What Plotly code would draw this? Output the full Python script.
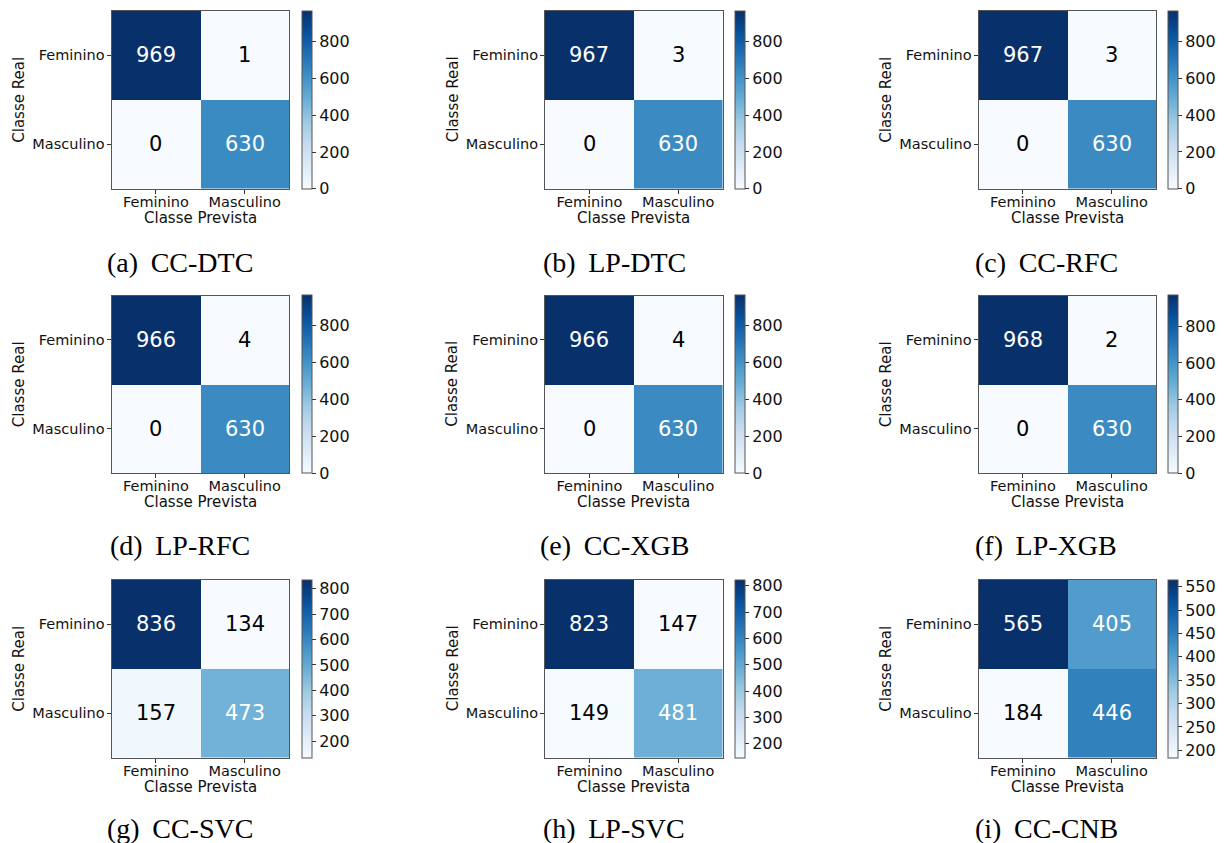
import plotly.graph_objects as go

W, H = 1227, 843

classes = ["Feminino", "Masculino"]
captions = ["(a)\u00a0\u2009CC-DTC", "(b)\u00a0\u2009LP-DTC", "(c)\u00a0\u2009CC-RFC",
            "(d)\u00a0\u2009LP-RFC", "(e)\u00a0\u2009CC-XGB", "(f)\u00a0\u2009LP-XGB",
            "(g)\u00a0\u2009CC-SVC", "(h)\u00a0\u2009LP-SVC", "(i)\u00a0\u2009CC-CNB"]

cm_a = [[969, 1], [0, 630]]
cm_b = [[967, 3], [0, 630]]
cm_c = [[967, 3], [0, 630]]
cm_d = [[966, 4], [0, 630]]
cm_e = [[966, 4], [0, 630]]
cm_f = [[968, 2], [0, 630]]
cm_g = [[836, 134], [157, 473]]
cm_h = [[823, 147], [149, 481]]
cm_i = [[565, 405], [184, 446]]
matrices = [cm_a, cm_b, cm_c, cm_d, cm_e, cm_f, cm_g, cm_h, cm_i]

cbar_dtick = [200, 200, 200, 200, 200, 200, 100, 100, 50]

# layout geometry (pixels)
col_left = [111.5, 545.0, 978.5]
col_cb = [302.0, 735.0, 1167.5]
row_top = [11.0, 295.5, 580.0]
size = 177.5
cap_x = [180, 614, 1046]
cap_y = [262, 545, 828]

SANS = "DejaVu Sans"
SERIF = "Liberation Serif"
LINE = "#555555"

fig = go.Figure()
annotations = []
layout = {}

for k, cm in enumerate(matrices):
    r, c = divmod(k, 3)
    n = k + 1
    xs = "" if n == 1 else str(n)
    x0 = col_left[c] / W
    x1 = (col_left[c] + size) / W
    y1 = 1 - row_top[r] / H
    y0 = 1 - (row_top[r] + size) / H
    flat = [v for row in cm for v in row]
    vmin, vmax = min(flat), max(flat)
    fig.add_trace(go.Heatmap(
        z=cm, x=[0, 1], y=[0, 1],
        colorscale="Blues", zmin=vmin, zmax=vmax,
        xaxis="x" + xs, yaxis="y" + xs, hoverinfo="skip",
        colorbar=dict(
            x=col_cb[c] / W, xanchor="left", xpad=0,
            y=(y0 + y1) / 2, yanchor="middle", ypad=0,
            len=size / H, lenmode="fraction",
            thickness=10, thicknessmode="pixels",
            outlinewidth=1, outlinecolor=LINE,
            ticks="outside", ticklen=4, tickcolor="#333",
            tick0=0, dtick=cbar_dtick[k],
            tickfont=dict(family=SANS, size=16, color="#111"),
        ),
    ))
    layout["xaxis" + xs] = dict(
        domain=[x0, x1], anchor="y" + xs, range=[-0.5, 1.5],
        tickvals=[0, 1], ticktext=classes, ticks="outside", ticklen=4,
        tickcolor="#333", showline=True, mirror=True, linecolor=LINE,
        linewidth=1, showgrid=False, zeroline=False, ticklabelstandoff=-4,
        tickfont=dict(family=SANS, size=14.5, color="#111"), fixedrange=True,
    )
    layout["yaxis" + xs] = dict(
        domain=[y0, y1], anchor="x" + xs, range=[1.5, -0.5],
        tickvals=[0, 1], ticktext=classes, ticks="outside", ticklen=4,
        tickcolor="#333", showline=True, mirror=True, linecolor=LINE,
        linewidth=1, showgrid=False, zeroline=False, ticklabelstandoff=-1,
        tickfont=dict(family=SANS, size=14.5, color="#111"), fixedrange=True,
    )
    thresh = vmax / 2
    for i in range(2):
        for j in range(2):
            v = cm[i][j]
            annotations.append(dict(
                x=j, y=i, xref="x" + xs, yref="y" + xs, text=str(v),
                showarrow=False,
                font=dict(family=SANS, size=21,
                          color="white" if v > thresh else "black"),
            ))
    # axis titles
    annotations.append(dict(
        x=(col_left[c] + size / 2) / W, y=1 - (row_top[r] + size + 29) / H,
        xref="paper", yref="paper", text="Classe Prevista", showarrow=False,
        xanchor="center", yanchor="middle",
        font=dict(family=SANS, size=15, color="#111"),
    ))
    annotations.append(dict(
        x=(col_left[c] - 92.5) / W, y=1 - (row_top[r] + size / 2) / H,
        xref="paper", yref="paper", text="Classe Real", showarrow=False,
        textangle=-90, xanchor="center", yanchor="middle",
        font=dict(family=SANS, size=15, color="#111"),
    ))
    annotations.append(dict(
        x=cap_x[c] / W, y=1 - cap_y[r] / H,
        xref="paper", yref="paper", text=captions[k], showarrow=False,
        xanchor="center", yanchor="middle",
        font=dict(family=SERIF, size=28, color="black"),
    ))

fig.update_layout(
    width=W, height=H,
    margin=dict(l=0, r=0, t=0, b=0),
    paper_bgcolor="white", plot_bgcolor="white",
    annotations=annotations,
    **layout,
)

fig.write_html(
    "out.html",
    config={"displayModeBar": False},
    post_script="document.body.style.margin='0';document.body.style.overflow='hidden';",
)
